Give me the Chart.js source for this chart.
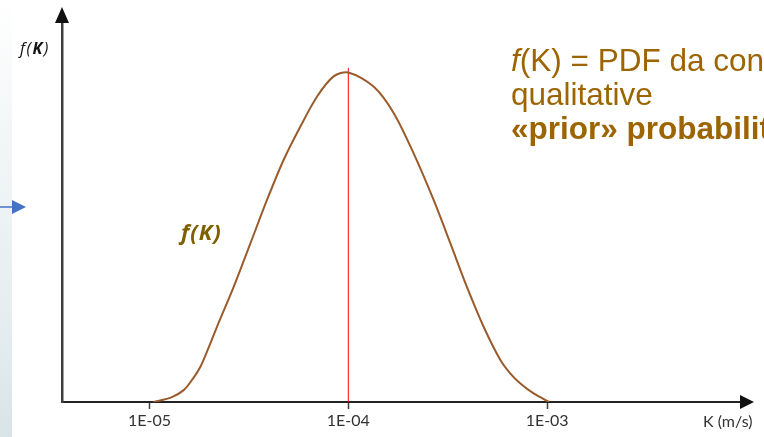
<!DOCTYPE html>
<html>
<head>
<meta charset="utf-8">
<script src="https://cdn.jsdelivr.net/npm/chart.js@4/dist/chart.umd.min.js"></script>
<style>
  html, body { margin: 0; padding: 0; background: #fff; overflow: hidden; }
  #wrap { position: relative; width: 764px; height: 437px; overflow: hidden; }
  #strip { position: absolute; left: 0; top: 0; width: 12px; height: 437px;
    background: linear-gradient(to bottom, #ffffff 0%, #f3f6f7 30%, #e6eef0 70%, #d9e4e8 100%); }
  canvas { position: absolute; left: 0; top: 0; }
  .txt { position: absolute; white-space: nowrap; }
  #ylab { left: 20px; top: 37px; font: italic 16px "Open Sans", Lato, sans-serif; letter-spacing: 1.5px; color: #111; }
  #curvelab { left: 181px; top: 216px; font: italic bold 22px "Open Sans", Lato, sans-serif; letter-spacing: 1px; color: #7f6000; }
  #xlab { left: 703px; top: 411px; font: 16px Lato, "Open Sans", sans-serif; color: #333; }
  #note { left: 511px; top: 43px; font: 31.5px "Liberation Sans", Arial, sans-serif; line-height: 34px; color: #9c6500; }
</style>
</head>
<body>
<div id="wrap">
  <div id="strip"></div>
  <canvas id="chart" width="764" height="437"></canvas>
  <div class="txt" id="ylab">f(<b>K</b>)</div>
  <div class="txt" id="curvelab">f(K)</div>
  <div class="txt" id="xlab">K (m/s)</div>
  <div class="txt" id="note"><i>f</i>(K) = PDF da conoscenza<br>qualitative<br><b>«prior» probability</b></div>
</div>
<script>
// log10(K) positions and f(K) values
const logK = [-4.98, -4.89, -4.828, -4.786, -4.744, -4.702, -4.66, -4.576, -4.492, -4.409, -4.325, -4.241,
  -4.157, -4.074, -4.0, -3.873, -3.772, -3.672, -3.571, -3.487, -3.404, -3.32, -3.236, -3.186, -3.136,
  -3.068, -2.99];
const fK = [0, 0.014, 0.036, 0.067, 0.107, 0.166, 0.229, 0.35, 0.482, 0.613, 0.735, 0.836,
  0.927, 0.988, 1.0, 0.957, 0.877, 0.755, 0.613, 0.482, 0.35, 0.229, 0.128, 0.087, 0.057,
  0.026, 0];

// vertical marker at the mode
const modeK = [-4, -4];
const modeF = [0, 1.014];

const tickValues = [-5, -4, -3];
const tickLabels = ["1E-05", "1E-04", "1E-03"];

const axisColor = "#404040";

const arrows = {
  id: "arrows",
  afterDraw(chart) {
    const ctx = chart.ctx;
    const a = chart.chartArea;
    ctx.save();
    ctx.fillStyle = "#111";
    // y axis arrow
    ctx.beginPath();
    ctx.moveTo(a.left, a.top - 16);
    ctx.lineTo(a.left - 7, a.top);
    ctx.lineTo(a.left + 7, a.top);
    ctx.closePath();
    ctx.fill();
    // x axis arrow
    ctx.beginPath();
    ctx.moveTo(a.right + 14, a.bottom);
    ctx.lineTo(a.right, a.bottom - 7);
    ctx.lineTo(a.right, a.bottom + 7);
    ctx.closePath();
    ctx.fill();
    // blue arrow on the left edge
    ctx.strokeStyle = "#4472c4";
    ctx.fillStyle = "#4472c4";
    ctx.lineWidth = 1.5;
    ctx.beginPath();
    ctx.moveTo(0, 207);
    ctx.lineTo(13, 207);
    ctx.stroke();
    ctx.beginPath();
    ctx.moveTo(26, 207);
    ctx.lineTo(12, 200);
    ctx.lineTo(12, 214);
    ctx.closePath();
    ctx.fill();
    ctx.restore();
  }
};

new Chart(document.getElementById("chart"), {
  type: "scatter",
  data: {
    datasets: [
      {
        data: logK.map((x, i) => ({ x: x, y: fK[i] })),
        showLine: true,
        borderColor: "#9a5b2c",
        borderWidth: 2,
        pointRadius: 0,
        tension: 0.3,
        fill: false
      },
      {
        data: modeK.map((x, i) => ({ x: x, y: modeF[i] })),
        showLine: true,
        borderColor: "#ff0000",
        borderWidth: 1,
        pointRadius: 0
      }
    ]
  },
  options: {
    responsive: false,
    animation: false,
    layout: { padding: { left: 62, right: 24, top: 23, bottom: 0 } },
    plugins: { legend: { display: false }, tooltip: { enabled: false } },
    scales: {
      x: {
        type: "linear",
        min: -5.44,
        max: -2.03,
        afterFit: (s) => { s.height = 35; },
        afterBuildTicks: (s) => { s.ticks = tickValues.map((v) => ({ value: v })); },
        grid: { drawOnChartArea: false, drawTicks: true, tickLength: 7, tickColor: axisColor, tickWidth: 1.5 },
        border: { display: true, color: "#222", width: 2 },
        ticks: {
          color: "#333",
          padding: 2,
          font: { family: "Lato", size: 16 },
          callback: (v) => tickLabels[tickValues.indexOf(v)] || ""
        }
      },
      y: {
        min: 0,
        max: 1.15,
        afterFit: (s) => { s.width = 0; },
        grid: { drawOnChartArea: false, drawTicks: false },
        border: { display: true, color: axisColor, width: 2.5 },
        ticks: { display: false }
      }
    }
  },
  plugins: [arrows]
});
</script>
</body>
</html>
